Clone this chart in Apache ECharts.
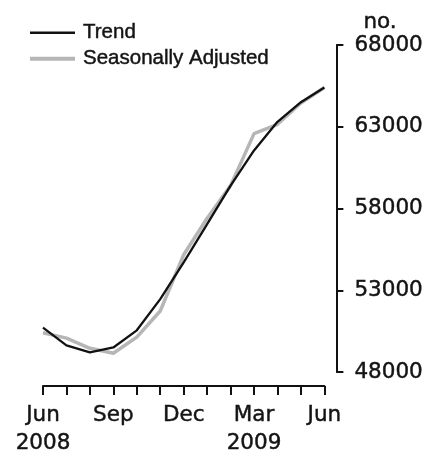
<!DOCTYPE html>
<html>
<head>
<meta charset="utf-8">
<script src="https://cdn.jsdelivr.net/npm/echarts@6/dist/echarts.min.js"></script>
<style>
html,body{margin:0;padding:0;background:#fff;}
#chart{width:426px;height:457px;}
</style>
</head>
<body>
<div id="chart"></div>
<script>
var categories = ['Jun 2008','Jul 2008','Aug 2008','Sep 2008','Oct 2008','Nov 2008','Dec 2008','Jan 2009','Feb 2009','Mar 2009','Apr 2009','May 2009','Jun 2009'];
var tickLabels = ['Jun\n2008','','','Sep','','','Dec','','','Mar\n2009','','','Jun'];
var trend = [50710, 49630, 49200, 49500, 50550, 52460, 54700, 57050, 59400, 61550, 63300, 64500, 65400];
var seasonallyAdjusted = [50400, 50070, 49450, 49150, 50130, 51730, 55170, 57400, 59400, 62580, 63150, 64450, 65400];
var yTicks = {min: 48000, max: 68000, interval: 5000};

var chart = echarts.init(document.getElementById('chart'));
var txt = '#141414';
var legendFont = '"Liberation Sans", Arial, sans-serif';
var axisFont = '"DejaVu Sans", sans-serif';
var trendColor = '#111';
var saColor = '#b6b6b6';
var heavy = {textBorderColor: txt, textBorderWidth: 0.45};
function legendBox(name, top, h) {
  return {
    orient: 'vertical',
    left: 25,
    top: top,
    icon: 'rect',
    itemWidth: 45,
    itemHeight: h,
    textStyle: Object.assign({fontFamily: legendFont, fontSize: 20.5, lineHeight: 20, color: txt, padding: [0, 0, 0, 3]}, heavy),
    data: [name]
  };
}
chart.setOption({
  animation: false,
  backgroundColor: '#fff',
  textStyle: {fontFamily: axisFont, color: txt},
  legend: [legendBox('Trend', 17, 2.5), legendBox('Seasonally Adjusted', 43, 4)],
  grid: {left: 43, right: 101, top: 45, bottom: 80},
  xAxis: {
    type: 'category',
    data: categories,
    boundaryGap: false,
    offset: 14,
    axisLine: {lineStyle: {color: trendColor, width: 2}},
    axisTick: {show: true, interval: 0, inside: false, length: 9, lineStyle: {color: trendColor, width: 2}},
    axisLabel: Object.assign({
      interval: 0, margin: 15, fontSize: 21.5, lineHeight: 28, color: txt, fontFamily: axisFont,
      formatter: function (v, i) { return tickLabels[i]; }
    }, heavy),
    splitLine: {show: false}
  },
  yAxis: {
    type: 'value',
    position: 'right',
    offset: 12,
    min: yTicks.min, max: yTicks.max, interval: yTicks.interval,
    name: 'no.',
    nameLocation: 'end',
    nameGap: 11,
    nameTextStyle: Object.assign({fontSize: 21.5, color: txt, fontFamily: axisFont, align: 'left', padding: [0, 0, 0, 27]}, heavy),
    axisLine: {show: true, lineStyle: {color: trendColor, width: 2}},
    axisTick: {show: true, inside: false, length: 7, lineStyle: {color: trendColor, width: 2}},
    axisLabel: Object.assign({
      margin: 18, fontSize: 21.5, color: txt, fontFamily: axisFont,
      formatter: function (v) { return String(v); }
    }, heavy),
    splitLine: {show: false}
  },
  series: [
    {
      name: 'Seasonally Adjusted', type: 'line', data: seasonallyAdjusted,
      symbol: 'none', z: 2,
      lineStyle: {color: saColor, width: 3.5},
      itemStyle: {color: saColor}
    },
    {
      name: 'Trend', type: 'line', data: trend,
      symbol: 'none', z: 3,
      lineStyle: {color: trendColor, width: 2.3},
      itemStyle: {color: trendColor}
    }
  ]
});
</script>
</body>
</html>
